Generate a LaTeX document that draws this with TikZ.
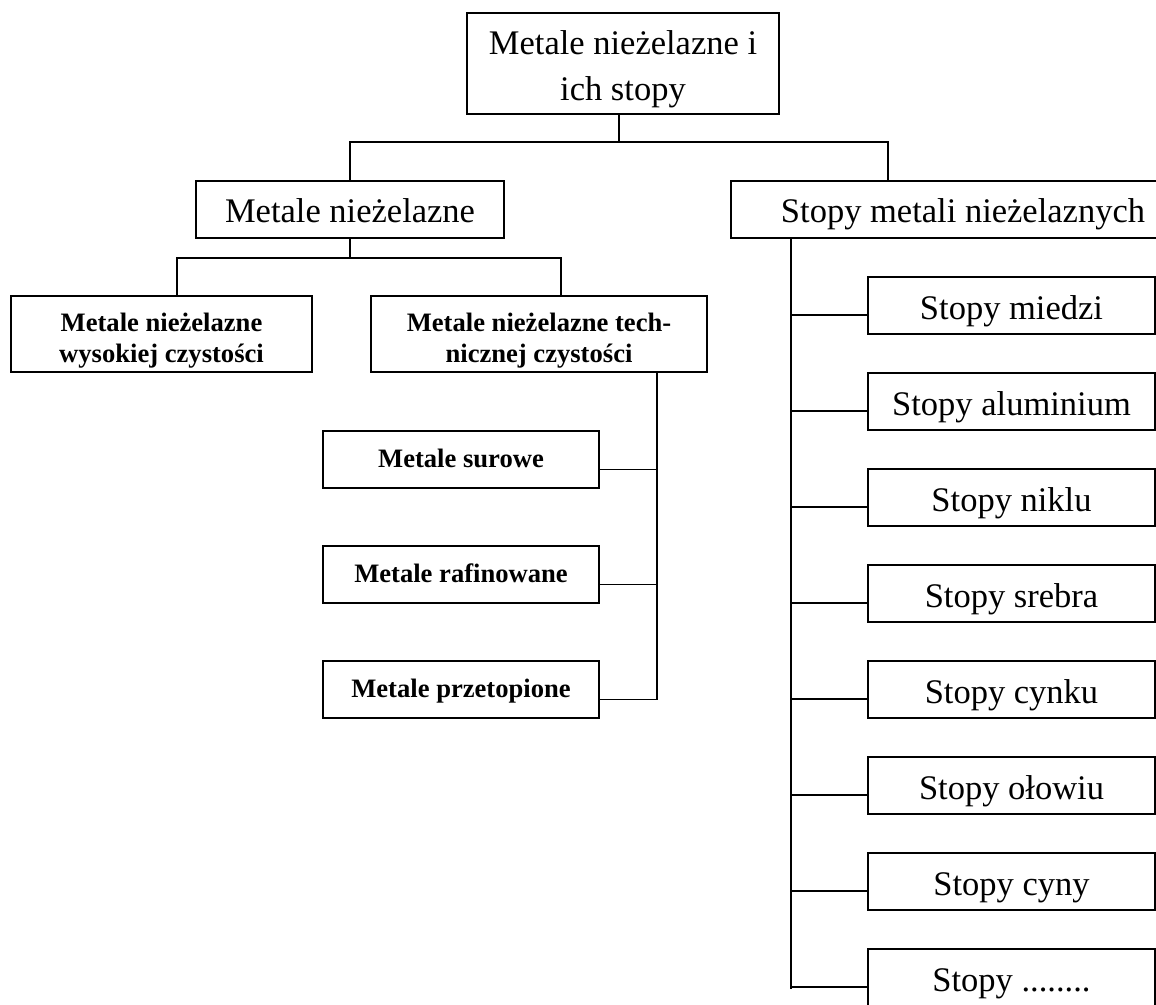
\documentclass[tikz,border=0pt]{standalone}
\usepackage{fontspec}
\setmainfont{Liberation Serif}
\usetikzlibrary{calc}
\begin{document}
\begin{tikzpicture}[x=1pt,y=-1pt,
  bx/.style={draw, line width=1.8pt, inner sep=0pt},
  reg/.style={font=\fontsize{34.5}{46}\selectfont},
  bld/.style={font=\fontsize{26.6}{31}\selectfont\bfseries},
  ln/.style={line width=1.8pt},
  stbox/.style={bx, reg, minimum width=287pt, minimum height=57pt, text height=38.6pt, text depth=10pt},
  mbox/.style={bx, bld, minimum width=276pt, minimum height=57pt, text height=25.6pt, text depth=10pt}
]
\fill[white] (0,0) rectangle (1156,1004);
\useasboundingbox (0,0) rectangle (1156,1004);

% level 0
\node[bx, reg, minimum width=312pt, minimum height=101pt, text height=78pt, text depth=5pt] (top) at (623,63.5)
  {\begin{tabular}[b]{@{}c@{}}Metale nieżelazne i\\ich stopy\end{tabular}};

% level 1
\node[bx, reg, minimum width=308pt, minimum height=57pt, text height=35pt, text depth=10pt] (mn) at (350,209.5) {Metale nieżelazne};
\node[bx, reg, minimum width=464pt, minimum height=57pt, text height=35pt, text depth=10pt] (smn) at (963,209.5) {Stopy metali nieżelaznych};

% level 2 left
\node[bx, bld, minimum width=301pt, minimum height=76pt, text height=62pt, text depth=5pt] (wc) at (161.5,334)
  {\begin{tabular}[b]{@{}c@{}}Metale nieżelazne\\wysokiej czystości\end{tabular}};
\node[bx, bld, minimum width=336pt, minimum height=76pt, text height=61pt, text depth=5pt] (tc) at (539,334)
  {\begin{tabular}[b]{@{}c@{}}Metale nieżelazne tech-\\nicznej czystości\end{tabular}};

\node[mbox] (ms) at (461,459.5) {Metale surowe};
\node[mbox] (mr) at (461,574.5) {Metale rafinowane};
\node[mbox] (mp) at (461,689.5) {Metale przetopione};

% right column
\node[stbox] (s1) at (1011.5,305.5) {Stopy miedzi};
\node[stbox] (s2) at (1011.5,401.5) {Stopy aluminium};
\node[stbox] (s3) at (1011.5,497.5) {Stopy niklu};
\node[stbox] (s4) at (1011.5,593.5) {Stopy srebra};
\node[stbox] (s5) at (1011.5,689.5) {Stopy cynku};
\node[stbox] (s6) at (1011.5,785.5) {Stopy ołowiu};
\node[stbox] (s7) at (1011.5,881.5) {Stopy cyny};
\node[stbox] (s8) at (1011.5,977.5) {Stopy ........};

% junctions
\coordinate (jt) at (619,142);
\coordinate (jr) at (888,142);
\coordinate (jl) at (177,258);
\coordinate (jc) at (561,258);
\coordinate (jv) at (657,0);
\coordinate (jw) at (791,0);

% top connectors
\draw[ln] (top.south -| jt) -- (jt);
\draw[ln] (mn.north) |- (jr) -- (jr |- smn.north);

% left subtree
\draw[ln] (mn.south) -- (mn.south |- jl);
\draw[ln] (wc.north -| jl) -- (jl) -- (jc) -- (tc.north -| jc);

\coordinate (c1) at ([yshift=-10pt]ms.east);
\coordinate (c2) at ([yshift=-10pt]mr.east);
\coordinate (c3) at ([yshift=-10pt]mp.east);
\draw[ln] (tc.south -| jv) -- (jv |- c3) -- (c3);
\draw[ln] (c1) -- (jv |- c1);
\draw[ln] (c2) -- (jv |- c2);

% right subtree
\foreach \i in {1,...,8}{
  \coordinate (d\i) at ([yshift=-9.5pt]s\i.west);
}
\draw[ln] (smn.south -| jw) -- ([yshift=-2pt]jw |- d8);
\foreach \i in {1,...,8}{
  \draw[ln] (jw |- d\i) -- (d\i);
}
\end{tikzpicture}
\end{document}
